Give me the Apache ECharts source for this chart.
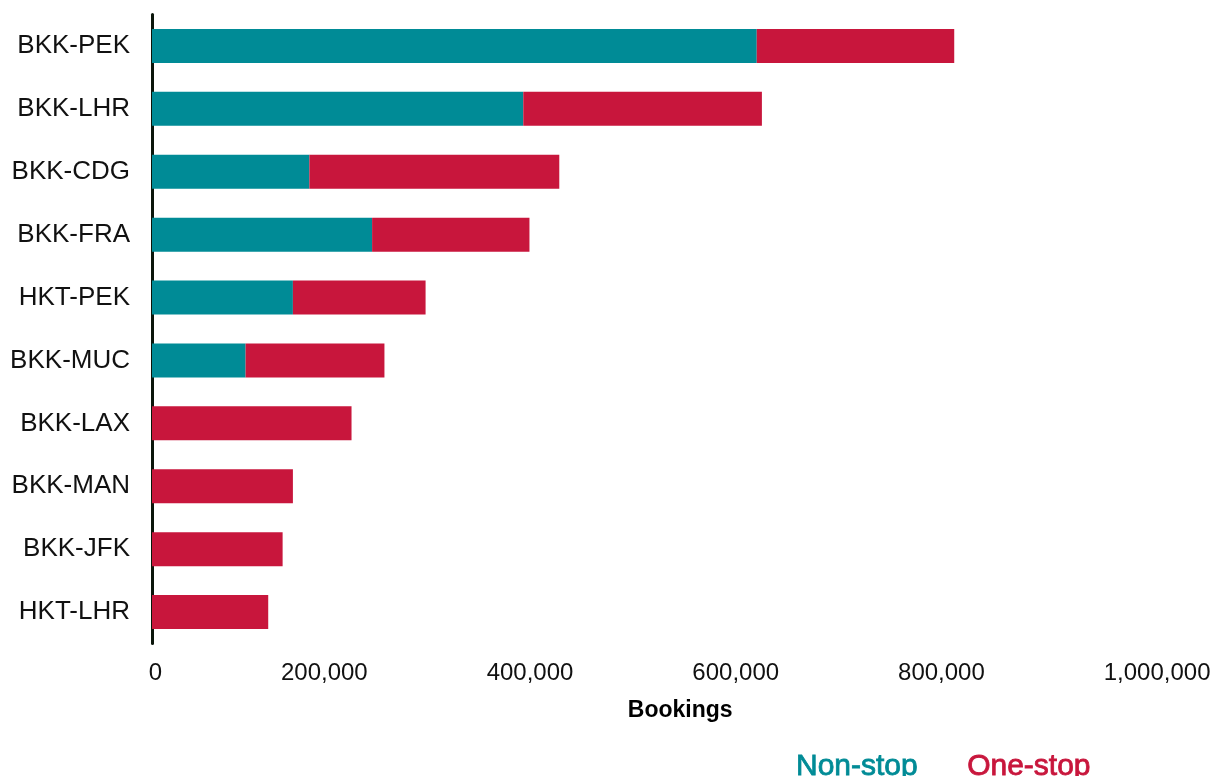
<!DOCTYPE html>
<html lang="en">

<head>
    <meta charset="UTF-8" />
    <title>Bookings by route</title>
    <script src="https://cdn.jsdelivr.net/npm/echarts@6/dist/echarts.min.js"></script>
    <style>
        html, body { margin: 0; padding: 0; background: #fff; }
        #main { width: 1214px; height: 776px; }
    </style>
</head>

<body>
    <div id="main"></div>
</body>
<script>
    // routes, top to bottom
    var routes = ['BKK-PEK', 'BKK-LHR', 'BKK-CDG', 'BKK-FRA', 'HKT-PEK', 'BKK-MUC', 'BKK-LAX', 'BKK-MAN', 'BKK-JFK', 'HKT-LHR'];
    // bookings
    var nonStop = [588000, 361000, 153000, 214000, 137000, 91000, 0, 0, 0, 0];
    var oneStop = [192000, 232000, 243000, 153000, 129000, 135000, 194000, 137000, 127000, 113000];
    var xTicks = [0, 200000, 400000, 600000, 800000, 1000000];

    var teal = '#008b96';
    var red = '#c8163c';
    var font = '"Liberation Sans", Arial, Helvetica, sans-serif';

    var myChart = echarts.init(document.getElementById('main'));

    var option = {
        animation: false,
        grid: {
            left: 152,
            right: 33.5,
            top: 14.5,
            height: 629,
            containLabel: false
        },
        legend: {
            left: 786,
            top: 746,
            itemWidth: 0,
            itemHeight: 0,
            itemGap: 44,
            selectedMode: false,
            data: [
                { name: 'Non-stop', textStyle: { color: teal, textBorderColor: teal, textBorderWidth: 0.8 } },
                { name: 'One-stop', textStyle: { color: red, textBorderColor: red, textBorderWidth: 0.8 } }
            ],
            textStyle: { fontFamily: font, fontSize: 30, lineHeight: 30 }
        },
        xAxis: {
            type: 'value',
            min: xTicks[0],
            max: xTicks[xTicks.length - 1],
            interval: 200000,
            name: 'Bookings',
            nameLocation: 'middle',
            nameGap: 56,
            nameTextStyle: {
                color: '#000',
                fontFamily: font,
                fontSize: 23,
                fontWeight: 'bold',
                padding: [0, 0, 0, 28]
            },
            axisLine: { show: false },
            axisTick: { show: false },
            splitLine: { show: false },
            axisLabel: {
                color: '#111',
                fontFamily: font,
                fontSize: 24,
                margin: 18,
                align: 'right',
                padding: [0, -10, 0, 0],
                formatter: function (v) {
                    var s = v.toLocaleString('en-US');
                    return v === xTicks[xTicks.length - 1] ? '{m|' + s + '}' : s;
                },
                rich: {
                    m: { fontFamily: font, fontSize: 24, color: '#111', padding: [0, -20, 0, 0] }
                }
            }
        },
        yAxis: {
            type: 'category',
            data: routes,
            inverse: true,
            axisLine: { show: true, lineStyle: { color: '#0b160b', width: 3 } },
            axisTick: { show: false },
            splitLine: { show: false },
            axisLabel: {
                color: '#111',
                fontFamily: font,
                fontSize: 26,
                margin: 22
            }
        },
        series: [{
                name: 'Non-stop',
                type: 'bar',
                stack: 'total',
                barWidth: 34,
                itemStyle: { color: teal },
                data: nonStop
            },
            {
                name: 'One-stop',
                type: 'bar',
                stack: 'total',
                barWidth: 34,
                itemStyle: { color: red },
                data: oneStop
            }
        ]
    };

    myChart.setOption(option);
</script>

</html>
